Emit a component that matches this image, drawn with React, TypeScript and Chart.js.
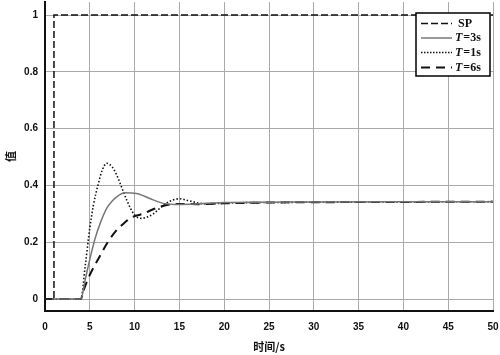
import React, { useEffect, useRef } from "react";
import { Chart, registerables } from "chart.js";

Chart.register(...registerables);

const xTicks = [0, 5, 10, 15, 20, 25, 30, 35, 40, 45, 50];
const yTicks = [0, 0.2, 0.4, 0.6, 0.8, 1];

const spT = [0, 1, 1, 50];
const spV = [0, 0, 1, 1];

const t3T = [0, 4, 4.5, 5, 5.6, 6.2, 6.9, 7.5, 8, 8.9, 10.2, 11.7, 13.2, 14.5, 16, 18, 20, 25, 30, 40, 50];
const t3V = [0, 0, 0.07, 0.14, 0.214, 0.27, 0.32, 0.345, 0.36, 0.374, 0.372, 0.354, 0.337, 0.333, 0.334, 0.337, 0.34, 0.341, 0.342, 0.343, 0.343];

const t1T = [0, 4, 4.5, 5, 5.4, 5.9, 6.4, 6.9, 7.5, 8, 8.6, 9.1, 10, 10.8, 11.5, 12.1, 13, 13.5, 14.2, 15, 16.1, 17.3, 18.5, 20, 25, 30, 40, 50];
const t1V = [0, 0, 0.12, 0.25, 0.33, 0.4, 0.455, 0.478, 0.465, 0.437, 0.39, 0.35, 0.296, 0.284, 0.29, 0.3, 0.325, 0.337, 0.348, 0.353, 0.346, 0.337, 0.335, 0.338, 0.34, 0.341, 0.342, 0.343];

const t6T = [0, 4, 4.3, 5, 6.1, 7, 8, 9, 9.5, 10.9, 12.4, 13.9, 15.5, 17, 20, 25, 30, 40, 50];
const t6V = [0, 0, 0.03, 0.085, 0.15, 0.2, 0.243, 0.272, 0.285, 0.3, 0.32, 0.333, 0.335, 0.334, 0.337, 0.34, 0.341, 0.342, 0.343];

const seriesLabels = ["SP", "3s", "1s", "6s"];

const zip = (t: number[], v: number[]) => t.map((x, i) => ({ x, y: v[i] }));

const legendPlugin = {
  id: "customLegend",
  afterDraw(chart: any) {
    const ctx = chart.ctx as CanvasRenderingContext2D;
    ctx.save();
    const bx = 416, by = 13, bw = 74, bh = 63;
    ctx.fillStyle = "#fff";
    ctx.fillRect(bx, by, bw, bh);
    ctx.strokeStyle = "#000";
    ctx.lineWidth = 1.5;
    ctx.strokeRect(bx, by, bw, bh);
    const styles = [
      { dash: [7, 3], color: "#111", w: 1.5 },
      { dash: [], color: "#777", w: 1.5 },
      { dash: [1.5, 1.5], color: "#111", w: 1.5 },
      { dash: [9, 6], color: "#111", w: 2 },
    ];
    const rows = [23.5, 38, 52.5, 67.5];
    rows.forEach((ry, i) => {
      const s = styles[i];
      ctx.beginPath();
      ctx.setLineDash(s.dash);
      ctx.strokeStyle = s.color;
      ctx.lineWidth = s.w;
      ctx.moveTo(421, ry);
      ctx.lineTo(452, ry);
      ctx.stroke();
      ctx.setLineDash([]);
      ctx.fillStyle = "#111";
      ctx.textBaseline = "middle";
      ctx.textAlign = "left";
      if (i === 0) {
        ctx.font = "bold 12px 'Liberation Serif'";
        ctx.fillText(seriesLabels[0], 458, ry);
      } else {
        ctx.font = "italic bold 12px 'Liberation Serif'";
        ctx.fillText("T", 455, ry);
        const w = ctx.measureText("T").width;
        ctx.font = "bold 12px 'Liberation Serif'";
        ctx.fillText("=" + seriesLabels[i], 456 + w, ry);
      }
    });
    ctx.restore();
  },
};

export default function App() {
  const ref = useRef<HTMLCanvasElement>(null);
  useEffect(() => {
    if (!ref.current) return;
    const chart = new Chart(ref.current, {
      type: "line",
      data: {
        datasets: [
          {
            label: "SP",
            data: zip(spT, spV),
            borderColor: "#111",
            borderWidth: 1.5,
            borderDash: [7, 3],
            pointRadius: 0,
            tension: 0,
          },
          {
            label: "T=3s",
            data: zip(t3T, t3V),
            borderColor: "#777",
            borderWidth: 1.5,
            pointRadius: 0,
            cubicInterpolationMode: "monotone",
          },
          {
            label: "T=1s",
            data: zip(t1T, t1V),
            borderColor: "#111",
            borderWidth: 1.6,
            borderDash: [1.5, 2],
            pointRadius: 0,
            cubicInterpolationMode: "monotone",
          },
          {
            label: "T=6s",
            data: zip(t6T, t6V),
            borderColor: "#111",
            borderWidth: 2,
            borderDash: [9, 6],
            pointRadius: 0,
            cubicInterpolationMode: "monotone",
          },
        ] as any,
      },
      options: {
        animation: false,
        responsive: false,
        maintainAspectRatio: false,
        layout: { padding: { top: 2, right: 7, left: 0, bottom: 0 } },
        plugins: { legend: { display: false }, tooltip: { enabled: false } },
        scales: {
          x: {
            type: "linear",
            min: 0,
            max: 50,
            afterBuildTicks: (s: any) => {
              s.ticks = xTicks.map((v) => ({ value: v }));
            },
            afterFit: (s: any) => {
              s.height = 44;
              s.paddingLeft = 0;
              s.paddingRight = 0;
            },
            grid: { color: "#aaa", lineWidth: 1, drawTicks: false },
            border: { display: true, color: "#111", width: 2 },
            ticks: {
              padding: 10,
              color: "#111",
              font: { family: "'Liberation Sans'", size: 10, weight: "bold" },
              maxRotation: 0,
            },
            title: {
              display: true,
              text: "时间/s",
              color: "#111",
              font: { family: "'Noto Sans CJK SC'", size: 11, weight: "bold" },
              padding: { top: 2, bottom: 2 },
            },
          },
          y: {
            type: "linear",
            min: -0.042,
            max: 1.046,
            afterBuildTicks: (s: any) => {
              s.ticks = yTicks.map((v) => ({ value: v }));
            },
            afterFit: (s: any) => {
              s.width = 45;
              s.paddingTop = 0;
              s.paddingBottom = 0;
            },
            grid: { color: "#aaa", lineWidth: 1, drawTicks: false },
            border: { display: true, color: "#111", width: 2 },
            ticks: {
              padding: 7,
              color: "#111",
              font: { family: "'Liberation Sans'", size: 10, weight: "bold" },
              callback: (v: any) => String(Math.round(Number(v) * 10) / 10),
            },
            title: {
              display: true,
              text: "值",
              color: "#111",
              font: { family: "'Noto Sans CJK SC'", size: 11, weight: "bold" },
              padding: { top: 4, bottom: 2 },
            },
          },
        },
      },
      plugins: [legendPlugin],
    });
    return () => chart.destroy();
  }, []);
  return (
    <div style={{ position: "absolute", left: 0, top: 0, width: 500, height: 355, background: "#fff" }}>
      <canvas ref={ref} width={500} height={355} style={{ display: "block", width: 500, height: 355 }} />
    </div>
  );
}
